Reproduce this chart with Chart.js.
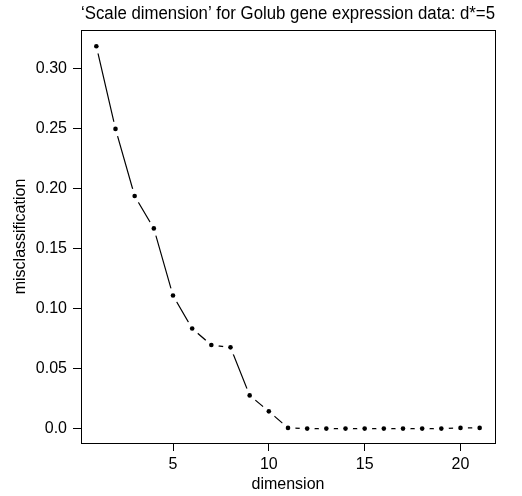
<!DOCTYPE html>
<html>
<head>
<meta charset="utf-8">
<script src="https://cdn.jsdelivr.net/npm/chart.js@4"></script>
<style>
  body { margin: 0; background: #fff; }
  #wrap { width: 522px; height: 496px; }
</style>
</head>
<body>
<div id="wrap"><canvas id="chart" width="522" height="496"></canvas></div>
<script>
const dims = [1, 2, 3, 4, 5, 6, 7, 8, 9, 10, 11, 12, 13, 14, 15, 16, 17, 18, 19, 20, 21];
const misclass = [0.319, 0.25, 0.194, 0.167, 0.111, 0.0835, 0.0697, 0.0678, 0.0277, 0.0144,
  0.0006, 0, 0, 0, 0, 0, 0, 0, 0, 0.0006, 0.0006];
const xTicks = [5, 10, 15, 20];
const yTicks = [0, 0.05, 0.1, 0.15, 0.2, 0.25, 0.3];
const yTickLabels = ["0.0", "0.05", "0.10", "0.15", "0.20", "0.25", "0.30"];

const font = "'Liberation Sans', Arial, Helvetica, sans-serif";
const points = dims.map((d, i) => ({ x: d, y: misclass[i] }));

// draw the full box round the plot, like R
const boxPlugin = {
  id: "box",
  afterDraw(chart) {
    const { ctx, chartArea: a } = chart;
    ctx.save();
    ctx.strokeStyle = "#000";
    ctx.lineWidth = 1;
    ctx.strokeRect(a.left + 0.5, a.top + 0.5, a.right - a.left, a.bottom - a.top);
    ctx.restore();
  }
};

new Chart(document.getElementById("chart"), {
  type: "line",
  data: {
    datasets: [
      { // the line itself
        data: points,
        borderColor: "#000",
        borderWidth: 1.2,
        pointRadius: 0,
        tension: 0,
        order: 3
      },
      { // white discs make the gaps round each point (type = "b")
        data: points,
        showLine: false,
        pointRadius: 7.5,
        pointBackgroundColor: "#fff",
        pointBorderWidth: 0,
        pointBorderColor: "#fff",
        order: 2
      },
      { // the dots
        data: points,
        showLine: false,
        pointRadius: 2.3,
        pointBackgroundColor: "#000",
        pointBorderWidth: 0,
        order: 1
      }
    ]
  },
  options: {
    responsive: false,
    animation: false,
    events: [],
    layout: { padding: { left: 0, top: 0, right: 27, bottom: 0 } },
    plugins: {
      legend: { display: false },
      tooltip: { enabled: false },
      title: {
        display: true,
        fullSize: false,
        text: "\u2018Scale dimension\u2019 for Golub gene expression data: d*=5",
        color: "#000",
        font: { family: font, size: 18.8, weight: "normal", lineHeight: 1.2 },
        padding: { top: 2.2, bottom: 5.24 }
      }
    },
    scales: {
      x: {
        type: "linear",
        min: 0.2,
        max: 21.8,
        afterBuildTicks: (s) => { s.ticks = xTicks.map((v) => ({ value: v })); },
        afterFit: (s) => { s.height = 53; },
        grid: { drawOnChartArea: false, color: "#000", tickLength: 8, tickWidth: 1 },
        border: { display: false },
        ticks: {
          color: "#000",
          font: { family: font, size: 16 },
          padding: 4,
          maxRotation: 0,
          callback: (v) => String(v)
        },
        title: {
          display: true,
          text: "dimension",
          color: "#000",
          font: { family: font, size: 16 },
          padding: { top: 0, bottom: 1.5 }
        }
      },
      y: {
        min: -0.012,
        max: 0.3325,
        afterBuildTicks: (s) => { s.ticks = yTicks.map((v) => ({ value: v })); },
        afterFit: (s) => { s.width = 81; },
        grid: { drawOnChartArea: false, color: "#000", tickLength: 8, tickWidth: 1 },
        border: { display: false },
        ticks: {
          color: "#000",
          font: { family: font, size: 16 },
          padding: 6,
          callback: (v, i) => yTickLabels[i]
        },
        title: {
          display: true,
          text: "misclassification",
          color: "#000",
          font: { family: font, size: 16 },
          padding: { top: 11, bottom: 0 }
        }
      }
    }
  },
  plugins: [boxPlugin]
});
</script>
</body>
</html>
